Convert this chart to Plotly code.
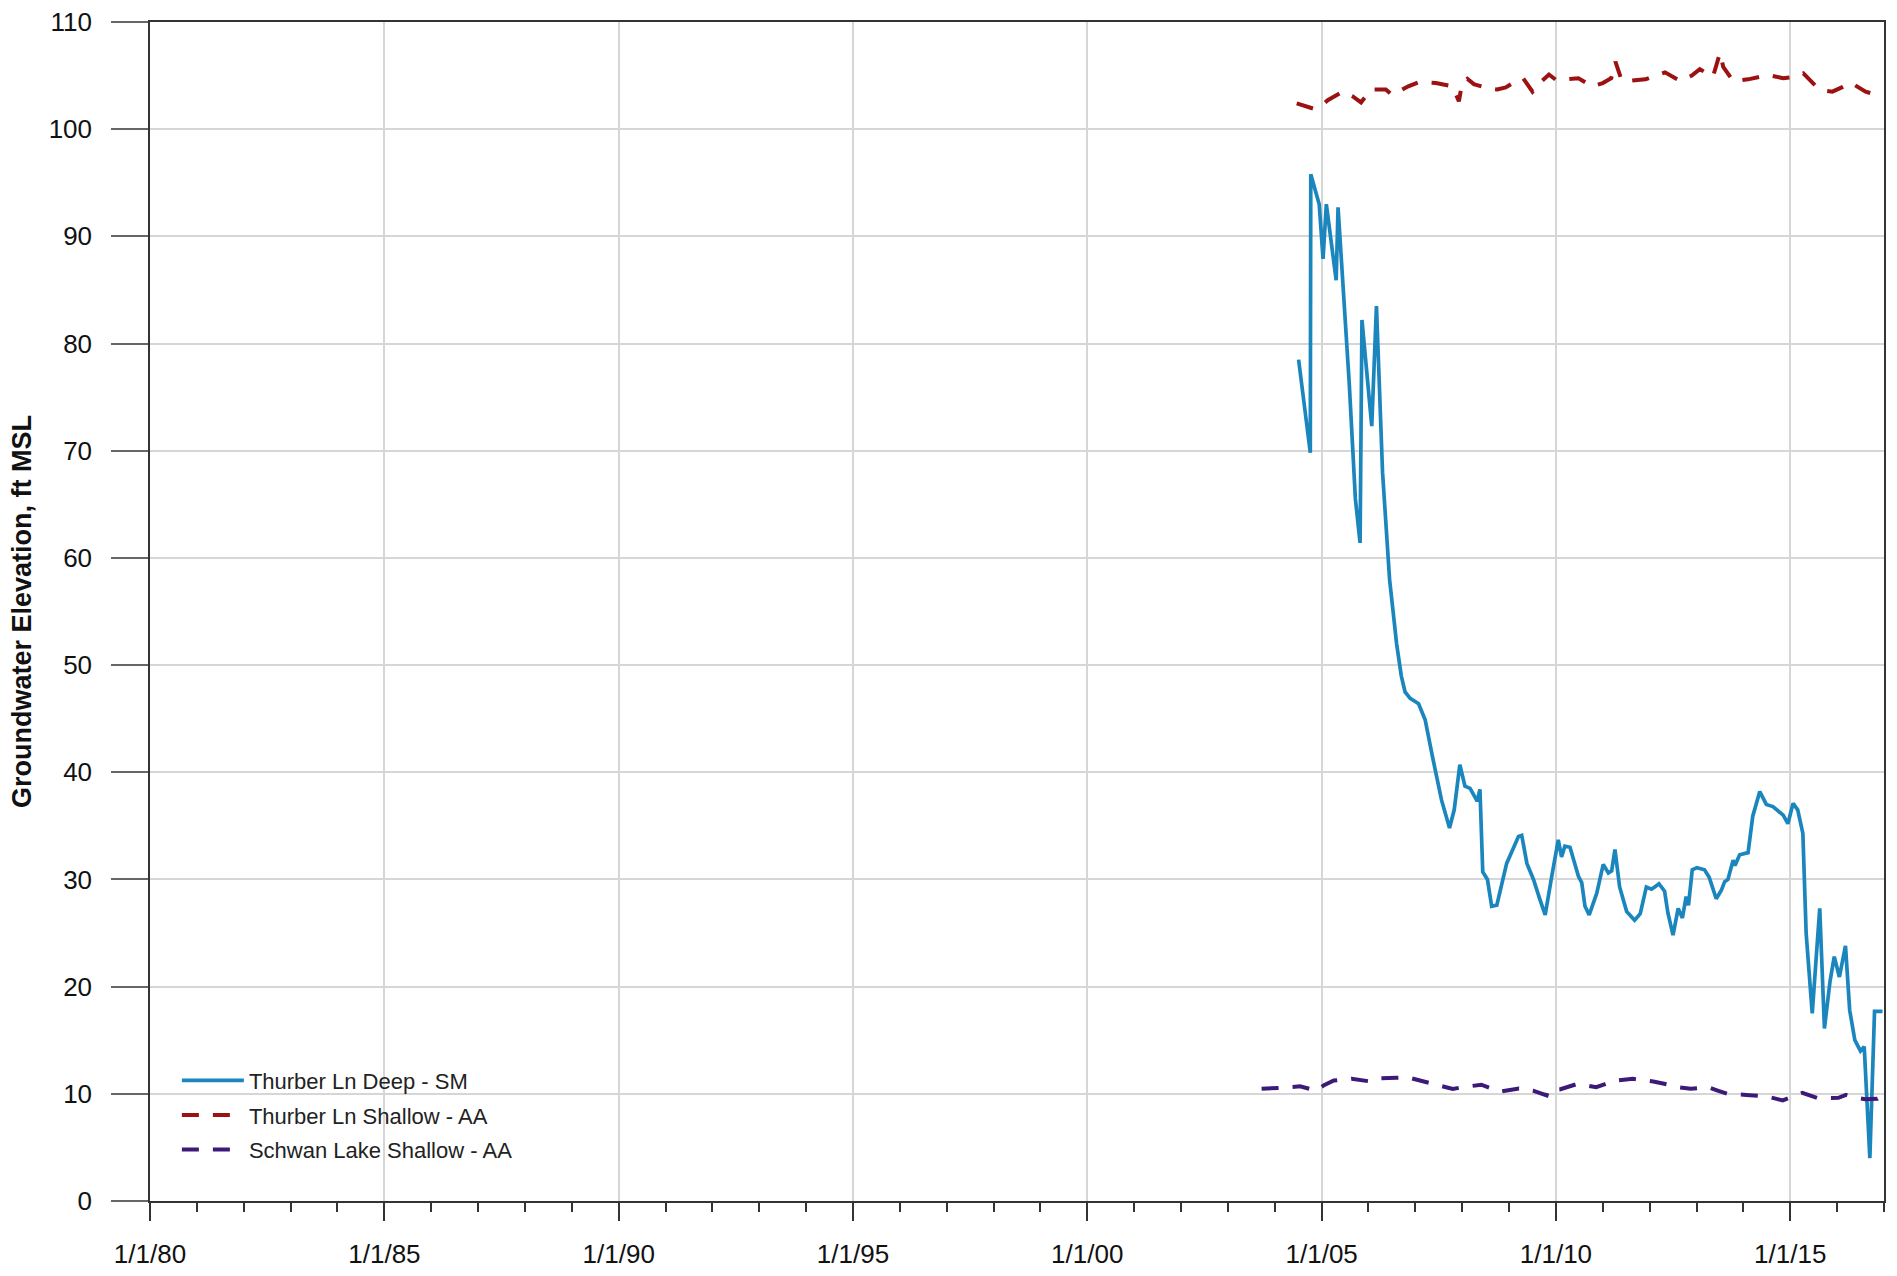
import pandas as pd
import plotly.graph_objects as go

# ---------------- data (decimal years, ft MSL) ----------------
deep_years = [2004.51, 2004.76, 2004.77, 2004.95, 2005.03, 2005.10, 2005.31, 2005.35, 2005.59, 2005.72,
              2005.82, 2005.86, 2006.07, 2006.17, 2006.30, 2006.45, 2006.60, 2006.70, 2006.78, 2006.89,
              2007.07, 2007.21, 2007.35, 2007.46, 2007.56, 2007.73, 2007.83, 2007.95, 2008.06, 2008.17,
              2008.27, 2008.32, 2008.38, 2008.44, 2008.54, 2008.63, 2008.74, 2008.95, 2009.20, 2009.27,
              2009.38, 2009.52, 2009.66, 2009.77, 2009.91, 2010.05, 2010.12, 2010.19, 2010.30, 2010.48,
              2010.55, 2010.62, 2010.71, 2010.87, 2011.01, 2011.12, 2011.19, 2011.26, 2011.36, 2011.51,
              2011.68, 2011.80, 2011.93, 2012.04, 2012.11, 2012.20, 2012.32, 2012.39, 2012.50, 2012.61,
              2012.70, 2012.78, 2012.83, 2012.91, 2013.01, 2013.17, 2013.27, 2013.42, 2013.53, 2013.60,
              2013.67, 2013.71, 2013.78, 2013.82, 2013.92, 2014.10, 2014.20, 2014.35, 2014.49, 2014.63,
              2014.74, 2014.85, 2014.95, 2015.06, 2015.16, 2015.27, 2015.34, 2015.47, 2015.63, 2015.73,
              2015.85, 2015.94, 2016.05, 2016.18, 2016.27, 2016.38, 2016.50, 2016.58, 2016.70, 2016.80,
              2016.97]
deep_values = [78.5, 69.8, 95.8, 93.0, 87.9, 93.0, 85.9, 92.7, 76.2, 65.5,
               61.4, 82.2, 72.3, 83.5, 68.0, 58.0, 52.0, 49.0, 47.5, 46.9,
               46.4, 44.9, 41.8, 39.6, 37.4, 34.8, 36.5, 40.7, 38.7, 38.5,
               37.7, 37.3, 38.4, 30.7, 30.0, 27.5, 27.6, 31.5, 34.0, 34.1,
               31.5, 30.0, 28.1, 26.7, 30.3, 33.7, 32.1, 33.1, 33.0, 30.3,
               29.7, 27.5, 26.7, 28.7, 31.4, 30.6, 30.8, 32.8, 29.3, 27.0,
               26.2, 26.8, 29.3, 29.1, 29.3, 29.6, 28.9, 26.9, 24.8, 27.3,
               26.4, 28.4, 27.6, 30.9, 31.1, 30.9, 30.2, 28.2, 29.0, 29.8,
               30.0, 30.7, 31.8, 31.3, 32.3, 32.5, 35.9, 38.2, 37.0, 36.8,
               36.4, 36.0, 35.2, 37.1, 36.5, 34.3, 25.0, 17.5, 27.3, 16.1,
               20.5, 22.8, 20.9, 23.8, 17.8, 15.0, 14.0, 14.4, 4.0, 17.7,
               17.7]

shallow_years = [2004.47, 2004.84, 2005.00, 2005.13, 2005.45, 2005.65, 2005.84, 2006.05, 2006.37, 2006.50,
                 2006.60, 2006.85, 2007.08, 2007.44, 2007.79, 2007.93, 2008.00, 2008.11, 2008.25, 2008.57,
                 2008.75, 2008.93, 2009.15, 2009.30, 2009.50, 2009.70, 2009.85, 2010.00, 2010.48, 2010.78,
                 2011.00, 2011.18, 2011.27, 2011.40, 2011.55, 2011.91, 2012.33, 2012.65, 2012.90, 2013.07,
                 2013.35, 2013.50, 2013.57, 2013.78, 2014.10, 2014.53, 2014.85, 2015.10, 2015.28, 2015.55,
                 2015.70, 2015.90, 2016.10, 2016.29, 2016.61, 2016.85]
shallow_values = [102.4, 101.9, 102.2, 102.7, 103.5, 103.1, 102.5, 103.7, 103.7, 103.2,
                  103.4, 104.0, 104.4, 104.3, 104.0, 102.6, 104.3, 104.7, 104.2, 103.8,
                  103.7, 103.9, 104.5, 104.75, 103.5, 104.5, 105.1, 104.6, 104.75, 104.0,
                  104.3, 104.75, 106.3, 104.6, 104.5, 104.65, 105.3, 104.5, 105.0, 105.6,
                  104.9, 107.1, 105.8, 104.5, 104.65, 105.06, 104.75, 104.9, 105.2, 104.0,
                  103.6, 103.5, 103.9, 104.35, 103.5, 103.2]

schwan_years = [2003.72, 2004.11, 2004.30, 2004.54, 2004.89, 2005.05, 2005.26, 2005.64, 2005.85, 2006.04,
                2006.24, 2006.39, 2006.60, 2006.83, 2007.20, 2007.40, 2007.63, 2007.80, 2007.98, 2008.20,
                2008.41, 2008.80, 2009.00, 2009.21, 2009.51, 2009.80, 2009.83, 2010.08, 2010.46, 2010.86,
                2011.05, 2011.27, 2011.64, 2011.85, 2012.08, 2012.42, 2012.65, 2012.88, 2013.24, 2013.45,
                2013.66, 2014.06, 2014.25, 2014.48, 2014.84, 2015.05, 2015.26, 2015.58, 2015.80, 2016.03,
                2016.19, 2016.33, 2016.60, 2016.86, 2016.96]
schwan_values = [10.47, 10.53, 10.6, 10.7, 10.3, 10.8, 11.24, 11.4, 11.3, 11.15,
                 11.45, 11.45, 11.5, 11.55, 11.15, 10.9, 10.6, 10.45, 10.6, 10.7,
                 10.85, 10.2, 10.35, 10.5, 10.3, 9.85, 10.3, 10.4, 10.93, 10.62,
                 10.9, 11.24, 11.4, 11.3, 11.15, 10.84, 10.6, 10.47, 10.62, 10.3,
                 10.0, 9.9, 9.85, 9.78, 9.38, 9.7, 10.09, 9.6, 9.6, 9.63,
                 9.9, 9.7, 9.5, 9.53, 9.8]

series_names = ["Thurber Ln Deep - SM", "Thurber Ln Shallow - AA", "Schwan Lake Shallow - AA"]
y_title = "Groundwater Elevation, ft MSL"
x_range = ["1980-01-01", "2017-01-01"]
y_range = [0, 110]


def to_dates(years):
    out = []
    for y in years:
        base = int(y)
        out.append(pd.Timestamp(base, 1, 1) + pd.Timedelta(days=(y - base) * 365.25))
    return out


FONT = "Arial, 'Liberation Sans', sans-serif"

fig = go.Figure()
fig.add_trace(go.Scatter(x=to_dates(deep_years), y=deep_values, mode="lines", name=series_names[0],
                         legendgroup="a", line=dict(color="#1a86bd", width=3.7)))
fig.add_trace(go.Scatter(x=to_dates(shallow_years), y=shallow_values, mode="lines", name=series_names[1],
                         legendgroup="b", line=dict(color="#9c1212", width=4, dash="17px,14px")))
fig.add_trace(go.Scatter(x=to_dates(schwan_years), y=schwan_values, mode="lines", name=series_names[2],
                         legendgroup="c", line=dict(color="#3d1a78", width=4, dash="17px,14px")))

fig.update_layout(
    width=1897, height=1276,
    margin=dict(l=150, r=13, t=22, b=75),
    paper_bgcolor="white", plot_bgcolor="white",
    font=dict(family=FONT, color="#111"),
    showlegend=True,
    legend=dict(x=0.0155, y=0.12, xanchor="left", yanchor="top", bgcolor="rgba(0,0,0,0)",
                font=dict(size=22, family=FONT, color="#222"), itemwidth=62,
                traceorder="grouped", tracegroupgap=3),
    xaxis=dict(
        type="date", range=x_range, tick0="1980-01-01", dtick="M60", tickformat="%-m/%-d/%y",
        ticks="outside", ticklen=18, tickwidth=1.5, tickcolor="#333",
        showgrid=True, gridcolor="#d6d6d6", gridwidth=1.5,
        showline=True, linecolor="#333", linewidth=1.5, mirror=True,
        tickfont=dict(size=26, family=FONT, color="#111"),
        ticklabelstandoff=11, automargin=False,
        minor=dict(ticks="outside", ticklen=9, tickwidth=1.5, tickcolor="#333", dtick="M12",
                   tick0="1980-01-01", showgrid=False),
        zeroline=False,
    ),
    yaxis=dict(
        range=y_range, dtick=10, tick0=0,
        ticks="outside", ticklen=37, tickwidth=1.5, tickcolor="#666",
        showgrid=True, gridcolor="#d6d6d6", gridwidth=1.5,
        showline=True, linecolor="#333", linewidth=1.5, mirror=True,
        tickfont=dict(size=26, family=FONT, color="#111"),
        ticklabelstandoff=14, automargin=False,
        zeroline=False,
        title=dict(text="<b>" + y_title + "</b>", font=dict(size=27, family=FONT, color="#111"), standoff=9),
    ),
)

fig.write_html("out.html", config={"displayModeBar": False},
               post_script="document.body.style.margin='0';document.body.style.overflow='hidden';")
